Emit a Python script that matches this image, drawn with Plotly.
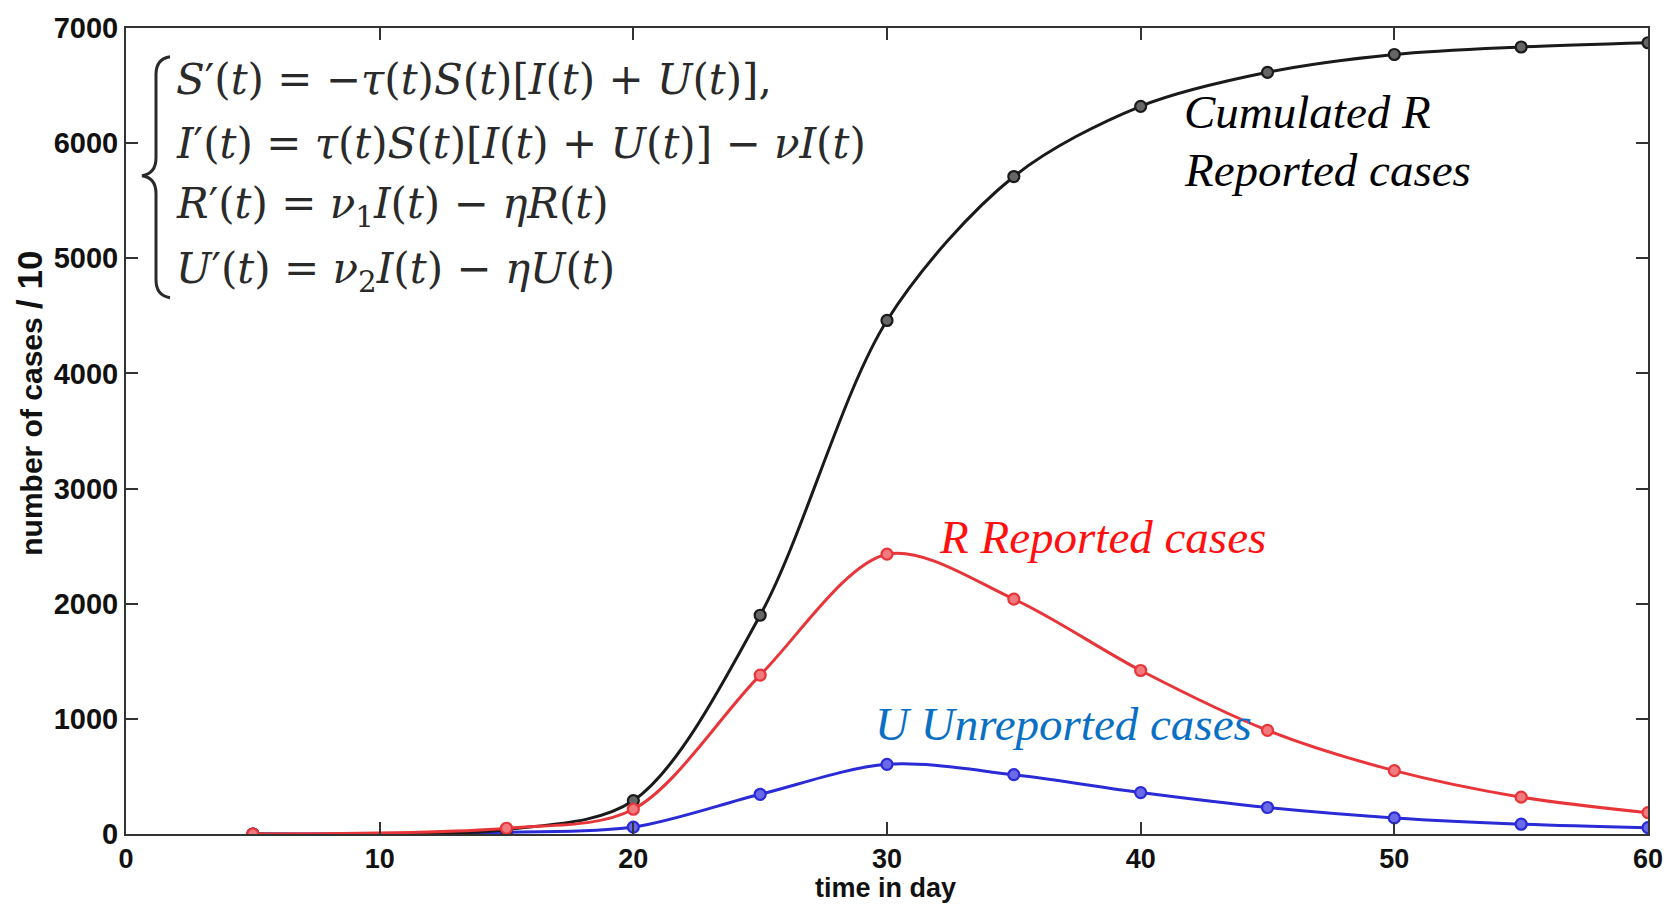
import plotly.graph_objects as go

# ---- data ----
days = [5, 15, 20, 25, 30, 35, 40, 45, 50, 55, 60]
cumulated_R = [0, 40, 290, 1900, 4460, 5710, 6320, 6615, 6770, 6835, 6872]
reported_R = [0, 50, 215, 1380, 2430, 2040, 1420, 900, 550, 320, 185]
unreported_U = [0, 15, 60, 345, 605, 515, 360, 230, 140, 85, 55]

x_ticks = [0, 10, 20, 30, 40, 50, 60]
y_ticks = [0, 1000, 2000, 3000, 4000, 5000, 6000, 7000]

BLACK = "#1a1a1a"
RED = "#e8353a"
BLUE = "#2a2ad6"

W, H = 1675, 904
ML, MR, MT, MB = 126, 27, 21, 70
PW = W - ML - MR
PH = H - MT - MB


def px2x(px):
    return (px - ML) / PW * 60


def px2y(py):
    return (H - MB - py) / PH * 7000


fig = go.Figure()


def add_series(y, color, fill):
    fig.add_trace(go.Scatter(
        x=days, y=y, mode="lines+markers",
        line=dict(color=color, width=3, shape="spline", smoothing=0.9),
        marker=dict(symbol="circle", size=11, color=fill,
                    line=dict(color=color, width=2.2)),
        showlegend=False, hoverinfo="skip"))


add_series(unreported_U, BLUE, "#6a6ae8")
add_series(cumulated_R, BLACK, "#666666")
add_series(reported_R, RED, "#f07a7d")

axis_common = dict(
    showline=True, linecolor="#333333", linewidth=2, mirror="ticks",
    ticks="inside", ticklen=12, tickwidth=1.5, tickcolor="#333333",
    showgrid=False, zeroline=False,
)

fig.update_xaxes(range=[0, 60], tickvals=x_ticks, ticktext=[str(v) for v in x_ticks],
                 tickfont=dict(family="Liberation Sans", size=27, color="#111111", weight="bold"),
                 **axis_common)
fig.update_yaxes(range=[0, 7000], tickvals=y_ticks, ticktext=[str(v) for v in y_ticks],
                 tickfont=dict(family="Liberation Sans", size=29, color="#111111", weight="bold"),
                 **axis_common)

# Equation system
eq_font = dict(family="DejaVu Serif", size=42, color="#2a2a2a")
eq_lines = [
    "<i>S</i>′(<i>t</i>) = −<i>τ</i>(<i>t</i>)<i>S</i>(<i>t</i>)[<i>I</i>(<i>t</i>) + <i>U</i>(<i>t</i>)],",
    "<i>I</i>′(<i>t</i>) = <i>τ</i>(<i>t</i>)<i>S</i>(<i>t</i>)[<i>I</i>(<i>t</i>) + <i>U</i>(<i>t</i>)] − <i>νI</i>(<i>t</i>)",
    "<i>R</i>′(<i>t</i>) = <i>ν</i><sub>1</sub><i>I</i>(<i>t</i>) − <i>ηR</i>(<i>t</i>)",
    "<i>U</i>′(<i>t</i>) = <i>ν</i><sub>2</sub><i>I</i>(<i>t</i>) − <i>ηU</i>(<i>t</i>)",
]
eq_centers = [73, 137, 201, 267]
for txt, cy in zip(eq_lines, eq_centers):
    fig.add_annotation(x=px2x(174), y=px2y(cy), xref="x", yref="y", text=txt,
                       showarrow=False, xanchor="left", yanchor="middle",
                       font=eq_font)

# Brace
bx0, bxm, bx1 = 170, 156, 142
by0, bym, by1 = 50, 170, 293
p = [
    f"M {px2x(bx0)} {px2y(by0)}",
    f"Q {px2x(bxm)} {px2y(by0 + 2)} {px2x(bxm)} {px2y(by0 + 18)}",
    f"L {px2x(bxm)} {px2y(bym - 18)}",
    f"Q {px2x(bxm)} {px2y(bym - 2)} {px2x(bx1)} {px2y(bym)}",
    f"Q {px2x(bxm)} {px2y(bym + 2)} {px2x(bxm)} {px2y(bym + 18)}",
    f"L {px2x(bxm)} {px2y(by1 - 18)}",
    f"Q {px2x(bxm)} {px2y(by1 - 2)} {px2x(bx0)} {px2y(by1)}",
]
fig.add_shape(type="path", path=" ".join(p), xref="x", yref="y",
              line=dict(color="#2a2a2a", width=3))

# Series labels
lab_font = dict(family="Liberation Serif", size=47)
fig.add_annotation(x=px2x(1182), y=px2y(106), text="<i>Cumulated R</i>",
                   showarrow=False, xanchor="left", yanchor="middle",
                   font=dict(lab_font, color="#000000"))
fig.add_annotation(x=px2x(1182), y=px2y(164), text="<i>Reported cases</i>",
                   showarrow=False, xanchor="left", yanchor="middle",
                   font=dict(lab_font, color="#000000"))
fig.add_annotation(x=px2x(937), y=px2y(534), text="<i>R Reported cases</i>",
                   showarrow=False, xanchor="left", yanchor="middle",
                   font=dict(lab_font, color="#ff1010"))
fig.add_annotation(x=px2x(873), y=px2y(723), text="<i>U Unreported cases</i>",
                   showarrow=False, xanchor="left", yanchor="middle",
                   font=dict(lab_font, color="#0a70c4"))

# Axis titles
fig.add_annotation(xref="paper", yref="paper", x=(885 - ML) / PW, y=(H - MB - 888) / PH,
                   text="time in day", showarrow=False, xanchor="center", yanchor="middle",
                   font=dict(family="Liberation Sans", size=27, color="#111111", weight="bold"))
fig.add_annotation(xref="paper", yref="paper", x=(30 - ML) / PW, y=(H - MB - 400) / PH,
                   text='number of cases <span style="font-size:35px">/ 10</span>',
                   textangle=-90, showarrow=False, xanchor="center", yanchor="middle",
                   font=dict(family="Liberation Sans", size=30, color="#111111", weight="bold"))

fig.update_layout(
    width=W, height=H,
    margin=dict(l=ML, r=MR, t=MT, b=MB),
    paper_bgcolor="white", plot_bgcolor="white",
)

fig.write_html("out.html")
